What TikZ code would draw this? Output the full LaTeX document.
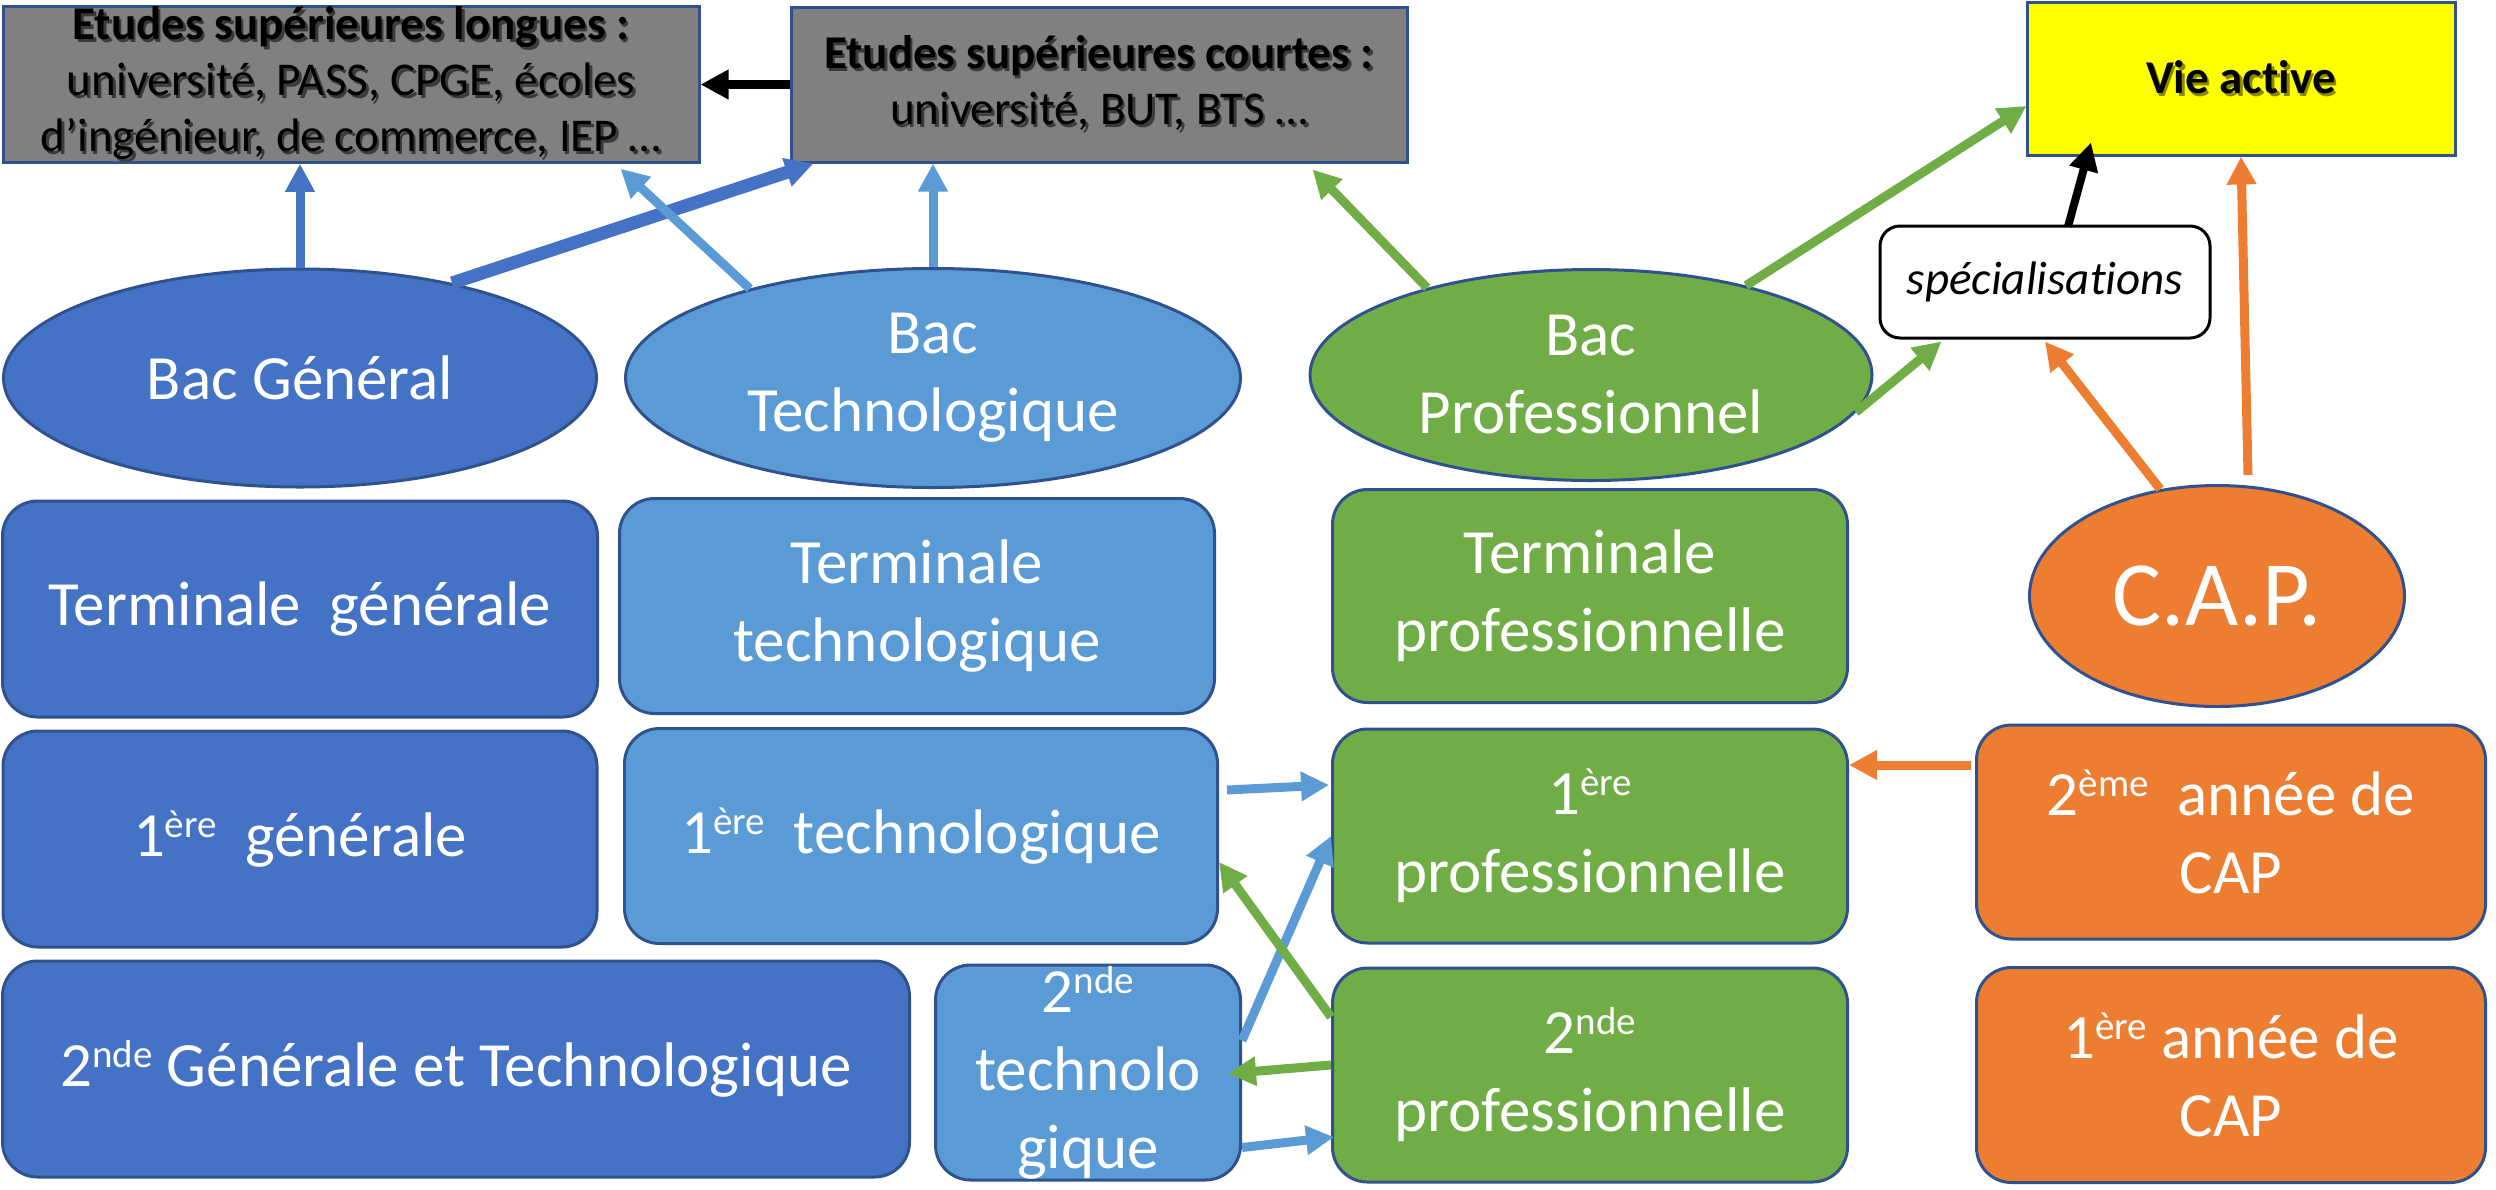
\documentclass[tikz,border=0pt]{standalone}
\usepackage{fontspec}
\setmainfont{Carlito}[Ligatures=CommonOff]
\usetikzlibrary{arrows.meta,shapes.geometric,calc}
\definecolor{dblue}{HTML}{4472C4}
\definecolor{lblue}{HTML}{5B9BD5}
\definecolor{grn}{HTML}{70AD47}
\definecolor{orng}{HTML}{ED7D31}
\definecolor{gry}{HTML}{808080}
\definecolor{yel}{HTML}{FFFF00}
\definecolor{ol}{HTML}{2F528F}
\definecolor{shgry}{HTML}{3A3A3A}
\definecolor{shyel}{HTML}{8A8A00}
\newcommand\expo[1]{\raisebox{19pt}{\fontsize{39}{39}\selectfont #1}}
\newcommand\shd[2]{\makebox[0pt][l]{\hspace{2.5pt}\raisebox{-2.5pt}{\textcolor{#1}{#2}}}#2}
\begin{document}
\begin{tikzpicture}[x=1pt,y=-1pt,
  every node/.style={inner sep=0pt, align=center},
  big/.style={font=\fontsize{63}{78}\selectfont, text=white},
  rbox/.style={draw=ol, line width=3pt, rounded corners=35pt, big},
  oval/.style={ellipse, draw=ol, line width=3pt, big},
  hbox/.style={draw=ol, line width=3pt, font=\fontsize{47}{56}\selectfont, text=black},
  arr/.style={line width=9pt, -{Triangle[length=28pt,width=28pt]}},
]
\useasboundingbox (0,0) rectangle (2496,1189);

% top boxes
\node[hbox, fill=gry, minimum width=696pt, minimum height=155pt] (longues) at (351,84.5)
  {\shd{shgry}{\textbf{Etudes supérieures longues :}}\\\shd{shgry}{université, PASS, CPGE, écoles}\\\shd{shgry}{d’ingénieur, de commerce, IEP …}};
\node[hbox, fill=gry, minimum width=616pt, minimum height=155pt] (courtes) at (1099,84.5)
  {\shd{shgry}{\textbf{Etudes supérieures courtes :}}\\\shd{shgry}{université, BUT, BTS …}};
\node[hbox, fill=yel, minimum width=428pt, minimum height=153pt] (vie) at (2241,78.5)
  {\shd{shyel}{\textbf{Vie active}}};
\node[draw=black, line width=3pt, rounded corners=20pt, fill=white, minimum width=330pt, minimum height=112pt,
  font=\fontsize{47}{56}\selectfont\itshape] (spec) at (2045,282) {spécialisations};

% bacs
\node[oval, fill=dblue, minimum width=593pt, minimum height=218pt] (bg) at (300,378) {Bac Général};
\node[oval, fill=lblue, minimum width=615pt, minimum height=219pt] (bt) at (933,378) {Bac\\Technologique};
\node[oval, fill=grn, minimum width=562pt, minimum height=211pt] (bp) at (1591,375) {Bac\\Professionnel};
\node[oval, fill=orng, minimum width=375pt, minimum height=221pt, font=\fontsize{92}{100}\selectfont] (cap) at (2217,596) {C.A.P.};

% classes
\node[rbox, fill=dblue, minimum width=595pt, minimum height=216pt] (tg) at (300,609) {Terminale~~générale};
\node[rbox, fill=lblue, minimum width=595pt, minimum height=215pt] (tt) at (917,606) {Terminale\\technologique};
\node[rbox, fill=grn, minimum width=515pt, minimum height=213pt] (tp) at (1590,596) {Terminale\\professionnelle};
\node[rbox, fill=dblue, minimum width=594pt, minimum height=216pt] (g1) at (300,839) {1\expo{ère}~~générale};
\node[rbox, fill=lblue, minimum width=593pt, minimum height=215pt] (t1) at (921,836) {1\expo{ère}~~technologique};
\node[rbox, fill=grn, minimum width=515pt, minimum height=214pt] (p1) at (1590,836) {1\expo{ère}\\professionnelle};
\node[rbox, fill=orng, minimum width=509pt, minimum height=214pt] (cap2) at (2231,832) {2\expo{ème}~~année de\\CAP};
\node[rbox, fill=dblue, minimum width=907pt, minimum height=216pt] (g2) at (456,1069) {2\expo{nde} Générale et Technologique};
\node[rbox, fill=lblue, minimum width=305pt, minimum height=215pt] (t2) at (1088,1072.5) {2\expo{nde}\\technolo\\gique};
\node[rbox, fill=grn, minimum width=515pt, minimum height=214pt] (p2) at (1590,1075) {2\expo{nde}\\professionnelle};
\node[rbox, fill=orng, minimum width=509pt, minimum height=215pt] (cap1) at (2231,1075) {1\expo{ère} année de\\CAP};

% connectors
\draw[arr, draw=black] (courtes.west) -- (longues.east);
\draw[arr, draw=dblue] (bg.north) -- (bg.north |- longues.south);
\draw[arr, draw=dblue, line width=13pt] (bg.32) -- ($(courtes.south west)+(24,0)$);
\draw[arr, draw=lblue] (bt.154) -- ($(longues.south east)+(-80,5)$);
\draw[arr, draw=lblue] (bt.north) -- (bt.north |- courtes.south);
\draw[arr, draw=grn] (bp.152) -- ($(courtes.south east)+(-96,6)$);
\draw[arr, draw=grn] (bp.30) -- ($(vie.west)+(1,27.5)$);
\draw[arr, draw=grn] (bp.-8) -- ($(spec.south west)+(63,2)$);
\draw[arr, draw=black, line width=8pt] ($(spec.north)+(23,2)$) -- ($(vie.south)+(-150,-14)$);
\draw[arr, draw=orng] (cap.118) -- ($(spec.south)+(0,2)$);
\draw[arr, draw=orng] ($(cap.north)+(31,-9)$) -- (vie.south);
\draw[arr, draw=orng] ($(cap2.west)+(-4,-67)$) -- ($(p1.east)+(0,-71)$);
\draw[arr, draw=lblue] ($(t1.east)+(8,-46)$) -- ($(p1.west)+(-2,-51)$);
\draw[arr, draw=lblue] ($(t2.east)+(0,-32)$) -- (p1.west);
\draw[arr, draw=grn] ($(p2.west)+(0,-58)$) -- ($(t1.east)+(0,26)$);
\draw[arr, draw=grn] ($(p2.west)+(0,-10)$) -- ($(t2.east)+(-14,1)$);
\draw[arr, draw=lblue] ($(t2.east)+(0,75)$) -- ($(p2.west)+(3,62)$);
\end{tikzpicture}
\end{document}
